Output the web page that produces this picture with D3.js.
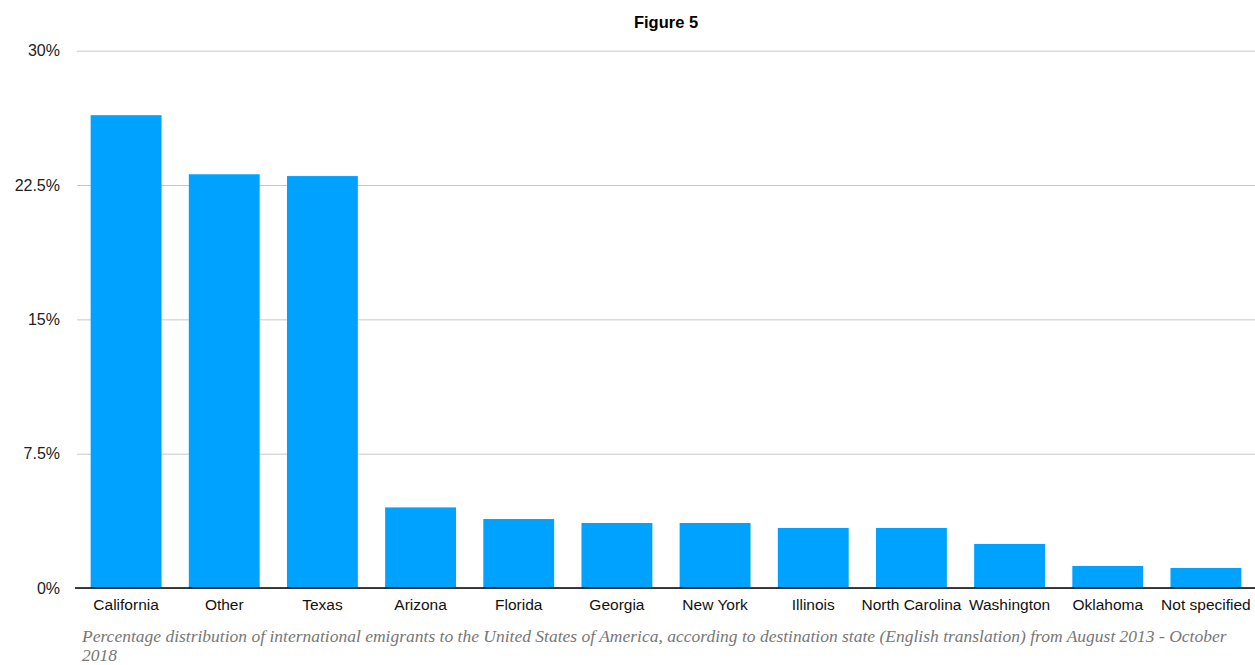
<!DOCTYPE html>
<html>
<head>
<meta charset="utf-8">
<script src="https://cdn.jsdelivr.net/npm/d3@7"></script>
<style>
  html, body { margin: 0; padding: 0; background: #fff; }
  svg { display: block; }
</style>
</head>
<body>
<svg id="chart" width="1255" height="665"></svg>
<script>
// Destination states and their share of emigrants (%)
const states = ["California", "Other", "Texas", "Arizona", "Florida", "Georgia",
  "New York", "Illinois", "North Carolina", "Washington", "Oklahoma", "Not specified"];
const shares = [26.4, 23.1, 23.0, 4.5, 3.85, 3.63, 3.63, 3.35, 3.35, 2.46, 1.23, 1.12];
const yTicks = [0, 7.5, 15, 22.5, 30];
const tickLabels = ["0%", "7.5%", "15%", "22.5%", "30%"];

const svg = d3.select("#chart");
const plotLeft = 77, plotRight = 1255, plotTop = 50.7, plotBottom = 588;

const x = d3.scaleBand().domain(states).range([plotLeft, plotRight]).paddingInner(0.278).paddingOuter(0.139);
const y = d3.scaleLinear().domain([0, 30]).range([plotBottom, plotTop]);

// Title
svg.append("text")
  .attr("x", 666).attr("y", 28)
  .attr("text-anchor", "middle")
  .attr("font-family", "Liberation Sans, Arial, sans-serif")
  .attr("font-weight", "bold").attr("font-size", 16.5)
  .attr("fill", "#000")
  .text("Figure 5");

// Horizontal gridlines and y tick labels
const yAxis = d3.axisLeft(y).tickValues(yTicks)
  .tickSize(-(plotRight - plotLeft))
  .tickFormat((d, i) => tickLabels[i]);
const gy = svg.append("g").attr("transform", `translate(${plotLeft},0)`).call(yAxis);
gy.select(".domain").remove();
gy.selectAll(".tick line").attr("stroke", "#c8c8c8").attr("stroke-width", 1);
gy.selectAll(".tick text")
  .attr("x", -17).attr("dy", "0.32em")
  .attr("font-family", "Liberation Sans, Arial, sans-serif")
  .attr("font-size", 16).attr("fill", "#222");

// Bars
svg.append("g").selectAll("rect")
  .data(states)
  .join("rect")
  .attr("x", d => x(d))
  .attr("width", x.bandwidth())
  .attr("y", (d, i) => y(shares[i]))
  .attr("height", (d, i) => y(0) - y(shares[i]))
  .attr("fill", "#00a2ff");

// Category axis
const xAxis = d3.axisBottom(x).tickSize(0).tickPadding(11);
const gx = svg.append("g").attr("transform", `translate(0,${plotBottom})`).call(xAxis);
gx.select(".domain").attr("stroke", "#000").attr("stroke-width", 1.5)
  .attr("d", `M${plotLeft - 2},0H${plotRight}`);
gx.selectAll(".tick text")
  .attr("font-family", "Liberation Sans, Arial, sans-serif")
  .attr("font-size", 15.5).attr("fill", "#111");

// Caption
const cap = svg.append("text")
  .attr("font-family", "Liberation Serif, Times New Roman, serif")
  .attr("font-style", "italic").attr("font-size", 17.5)
  .attr("fill", "#777");
cap.append("tspan").attr("x", 82).attr("y", 642)
  .text("Percentage distribution of international emigrants to the United States of America, according to destination state (English translation) from August 2013 - October");
cap.append("tspan").attr("x", 82).attr("y", 661).text("2018");
</script>
</body>
</html>
